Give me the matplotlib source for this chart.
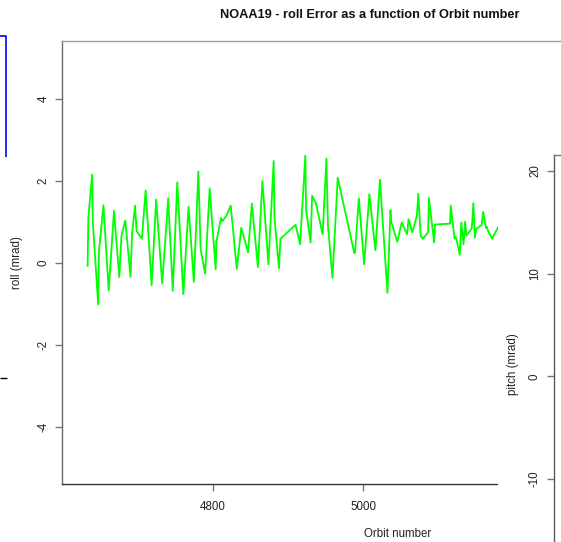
import matplotlib
matplotlib.use("Agg")
import matplotlib.pyplot as plt
from matplotlib.lines import Line2D
from matplotlib.patches import Rectangle

plt.rcParams['font.family'] = ['Liberation Sans', 'DejaVu Sans']
plt.rcParams['axes.unicode_minus'] = False

# Orbit numbers and roll error (mrad) for NOAA19
orbit = [4634, 4635, 4640, 4641, 4648, 4649, 4655, 4662, 4669, 4676,
         4679, 4684, 4691, 4693, 4697, 4699, 4706, 4711, 4719, 4725,
         4733, 4741, 4747, 4753, 4761, 4768, 4775, 4781, 4784, 4790,
         4796, 4804, 4805, 4811, 4813, 4818, 4824, 4832, 4838, 4847,
         4852, 4860, 4866, 4874, 4881, 4882, 4888, 4890, 4910, 4916,
         4923, 4924, 4930, 4932, 4937, 4946, 4951, 4953, 4959, 4966,
         4988, 4989, 4994, 5001, 5008, 5016, 5022, 5032, 5036, 5037,
         5045, 5051, 5058, 5060, 5065, 5071, 5073, 5076, 5079, 5086,
         5087, 5094, 5095, 5115, 5116, 5121, 5123, 5128, 5130, 5133,
         5135, 5137, 5144, 5146, 5148, 5150, 5157, 5159, 5163, 5164,
         5166, 5171, 5179]
roll = [-0.07, 1.10, 2.16, 0.97, -1.01, 0.28, 1.41, -0.67, 1.27, -0.34,
        0.67, 1.04, -0.34, 0.70, 1.40, 0.78, 0.59, 1.77, -0.54, 1.55,
        -0.50, 1.58, -0.68, 1.97, -0.76, 1.37, -0.46, 2.23, 0.34, -0.26,
        1.82, -0.15, 0.52, 1.10, 1.02, 1.15, 1.40, -0.15, 0.86, 0.26,
        1.45, -0.10, 2.00, -0.03, 2.49, 1.13, -0.13, 0.59, 0.93, 0.46,
        2.62, 1.29, 0.50, 1.64, 1.46, 0.70, 2.55, 0.93, -0.36, 2.08,
        0.24, 0.26, 1.58, -0.03, 1.68, 0.31, 2.03, -0.73, 1.29, 1.01,
        0.52, 0.99, 0.70, 1.07, 0.75, 1.15, 1.69, 0.67, 0.59, 0.75,
        1.59, 0.50, 0.94, 0.96, 1.40, 0.60, 0.63, 0.20, 0.99, 0.46,
        1.01, 0.67, 0.85, 1.46, 0.62, 0.83, 0.93, 1.25, 0.85, 0.88,
        0.76, 0.59, 0.88]

roll_ticks = [-4, -2, 0, 2, 4]
orbit_ticks = [4800, 5000]
pitch_ticks = [-10, 0, 10, 20]

W, H = 561, 542
fig = plt.figure(figsize=(W / 100, H / 100), dpi=100)
fig.patch.set_facecolor('white')


def fx(px):
    return px / W


def fy(py):
    return 1 - py / H


def fig_line(xs, ys, color, lw, z=5):
    fig.add_artist(Line2D([fx(x) for x in xs], [fy(y) for y in ys],
                          transform=fig.transFigure, color=color, lw=lw,
                          zorder=z, solid_capstyle='butt'))


# Fragments of neighbouring panels on the left edge
fig_line([0, 6, 6], [36, 36, 157], '#0000ff', 1.2)
fig_line([0, 7], [378, 378], '#000000', 1.0)

# Main roll panel (extends past the right edge of the canvas)
ax = fig.add_axes([fx(62), fy(484), fx(734) - fx(62), fy(41) - fy(484)])
ax.set_zorder(1)
ax.patch.set_alpha(0)
ax.plot(orbit, roll, color='#00ff00', lw=1.3)
ax.set_xlim(4600, 5492)
ax.set_ylim(-5.39, 5.415)
ax.set_xticks(orbit_ticks)
ax.set_yticks(roll_ticks)
ax.tick_params(axis='both', length=5, width=1.0, color='#777777',
               labelsize=8.3, labelcolor='#222222')
ax.tick_params(axis='y', pad=4, labelrotation=90)
ax.tick_params(axis='x', pad=7)
for lab in ax.get_yticklabels():
    lab.set_va('center')
ax.spines['left'].set_color('#6a6a6a')
ax.spines['top'].set_color('#a0a0a0')
ax.spines['bottom'].set_color('#333333')
ax.spines['right'].set_visible(False)
for s in ax.spines.values():
    s.set_linewidth(1.0)

fig.text(fx(17), fy(263), 'roll (mrad)', rotation=90, ha='center',
         va='center', fontsize=8.3, color='#222222')
fig.text(fx(398), fy(534), 'Orbit number', ha='center', va='center',
         fontsize=8.3, color='#222222')
fig.text(fx(370), fy(15), 'NOAA19 - roll Error as a function of Orbit number',
         ha='center', va='center', fontsize=9.2, fontweight='bold',
         color='#111111')

# Pitch panel overlapping on the right
fig.add_artist(Rectangle((fx(498), 0), 1 - fx(498), fy(48),
                         transform=fig.transFigure, facecolor='white',
                         edgecolor='none', zorder=2))
ax2 = fig.add_axes([fx(553.5), fy(580), 0.3, fy(155) - fy(580)])
ax2.set_zorder(3)
ax2.patch.set_facecolor('white')
ax2.set_ylim(20 - (580 - 171) / 10.27, 20 + (171 - 155) / 10.27)
ax2.set_xlim(0, 1)
ax2.set_xticks([])
ax2.set_yticks(pitch_ticks)
ax2.tick_params(axis='y', length=5, width=1.0, color='#777777',
                labelsize=8.3, labelcolor='#222222', pad=4, labelrotation=90)
for lab in ax2.get_yticklabels():
    lab.set_va('center')
ax2.spines['left'].set_color('#5a5a5a')
ax2.spines['top'].set_color('#777777')
for s in ax2.spines.values():
    s.set_linewidth(1.0)
fig.text(fx(513), fy(364), 'pitch (mrad)', rotation=90, ha='center',
         va='center', fontsize=8.3, color='#222222')

fig.savefig('out.png', dpi=100, facecolor='white')
